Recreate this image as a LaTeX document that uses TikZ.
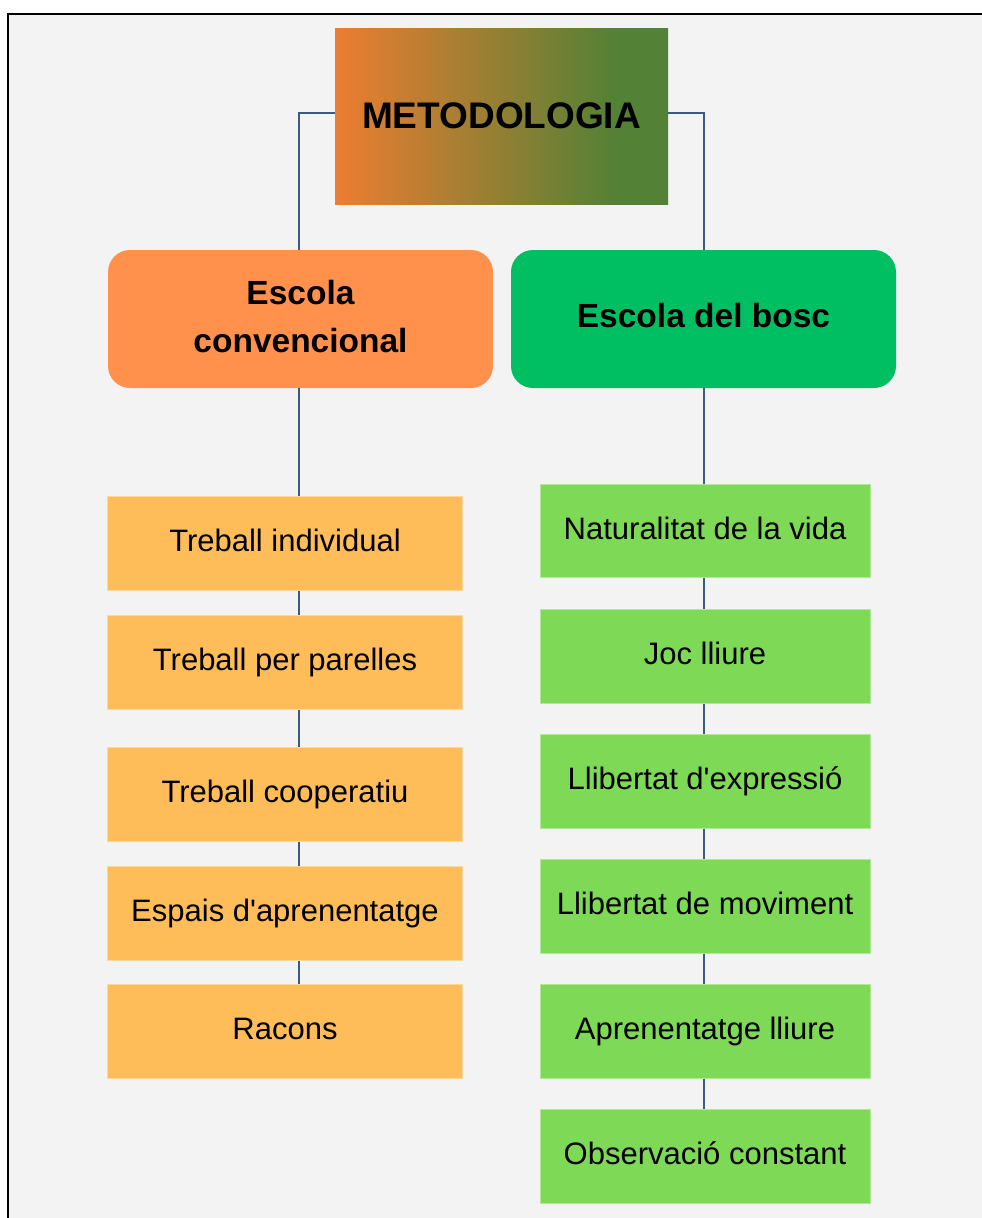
\documentclass[tikz,border=0pt]{standalone}
\usepackage{fontspec}
\setmainfont{Liberation Sans}[Ligatures=TeXOff]
\definecolor{bgray}{HTML}{F3F3F3}
\definecolor{torange}{HTML}{ED7D31}
\definecolor{tgreen}{HTML}{538135}
\definecolor{convc}{HTML}{FF914D}
\definecolor{boscc}{HTML}{00BF63}
\definecolor{leftc}{HTML}{FFBD59}
\definecolor{rightc}{HTML}{7ED957}
\definecolor{linec}{HTML}{3D5A80}
\pgfdeclarehorizontalshading{titleshade}{100bp}{color(0bp)=(torange); color(25bp)=(torange); color(67bp)=(tgreen); color(100bp)=(tgreen)}
\tikzset{
  conn/.style={draw=linec, line width=2.6pt},
  bigbox/.style={rounded corners=22pt, minimum width=385pt, minimum height=138pt, inner sep=0pt,
    font=\bfseries\fontsize{33.5}{48}\selectfont, align=center},
  leftbox/.style={fill=leftc, draw=leftc!60!white, line width=0.8pt, minimum width=355pt, minimum height=93.5pt,
    inner sep=0pt, font=\fontsize{31}{37}\selectfont, text height=22pt, text depth=6pt},
  rightbox/.style={fill=rightc, draw=rightc!60!white, line width=0.8pt, minimum width=330pt, minimum height=93.5pt,
    inner sep=0pt, font=\fontsize{31}{37}\selectfont, text height=22pt, text depth=6pt}
}
\begin{document}
\begin{tikzpicture}[x=1pt, y=-1pt]
\useasboundingbox (0,0) rectangle (982,1218);
\fill[white] (0,0) rectangle (982,1218);
\fill[bgray] (8,14) rectangle (982,1218);
\draw[black, line width=2.2pt] (8,1218) -- (8,14) -- (982,14);

% title
\node[shading=titleshade, minimum width=333pt, minimum height=176pt, inner sep=0pt,
  font=\bfseries\fontsize{37}{44}\selectfont, text height=27pt, text depth=3pt] (title) at (501.5,116) {METODOLOGIA};

% main categories
\node[bigbox, fill=convc] (conv) at (300.5,319) {Escola\\convencional\rule[-6pt]{0pt}{6pt}};
\node[bigbox, fill=boscc, text height=24pt, text depth=8pt] (bosc) at (703.5,319) {Escola del bosc};

\coordinate (lx) at (299,0);
\coordinate (rx) at (704,0);
\coordinate (ty) at (0,113);

% connectors from title
\draw[conn] (title.west |- ty) -| (conv.north -| lx);
\draw[conn] (title.east |- ty) -| (bosc.north -| rx);

\path (285,543.5) coordinate (l1c) (285,662.5) coordinate (l2c) (285,794.5) coordinate (l3c)
      (285,913.5) coordinate (l4c) (285,1031.5) coordinate (l5c);
\path (705,531) coordinate (r1c) (705,656.5) coordinate (r2c) (705,781.5) coordinate (r3c)
      (705,906.5) coordinate (r4c) (705,1031.5) coordinate (r5c) (705,1156.5) coordinate (r6c);

\node[leftbox] (l1) at (l1c) {Treball individual};
\node[leftbox] (l2) at (l2c) {Treball per parelles};
\node[leftbox] (l3) at (l3c) {Treball cooperatiu};
\node[leftbox] (l4) at (l4c) {Espais d'aprenentatge};
\node[leftbox] (l5) at (l5c) {Racons};

\node[rightbox] (r1) at (r1c) {Naturalitat de la vida};
\node[rightbox] (r2) at (r2c) {Joc lliure};
\node[rightbox] (r3) at (r3c) {Llibertat d'expressió};
\node[rightbox] (r4) at (r4c) {Llibertat de moviment};
\node[rightbox] (r5) at (r5c) {Aprenentatge lliure};
\node[rightbox] (r6) at (r6c) {Observació constant};

\draw[conn] (conv.south -| lx) -- (l1.north -| lx);
\draw[conn] (l1.south -| lx) -- (l2.north -| lx);
\draw[conn] (l2.south -| lx) -- (l3.north -| lx);
\draw[conn] (l3.south -| lx) -- (l4.north -| lx);
\draw[conn] (l4.south -| lx) -- (l5.north -| lx);

\draw[conn] (bosc.south -| rx) -- (r1.north -| rx);
\draw[conn] (r1.south -| rx) -- (r2.north -| rx);
\draw[conn] (r2.south -| rx) -- (r3.north -| rx);
\draw[conn] (r3.south -| rx) -- (r4.north -| rx);
\draw[conn] (r4.south -| rx) -- (r5.north -| rx);
\draw[conn] (r5.south -| rx) -- (r6.north -| rx);
\end{tikzpicture}
\end{document}
